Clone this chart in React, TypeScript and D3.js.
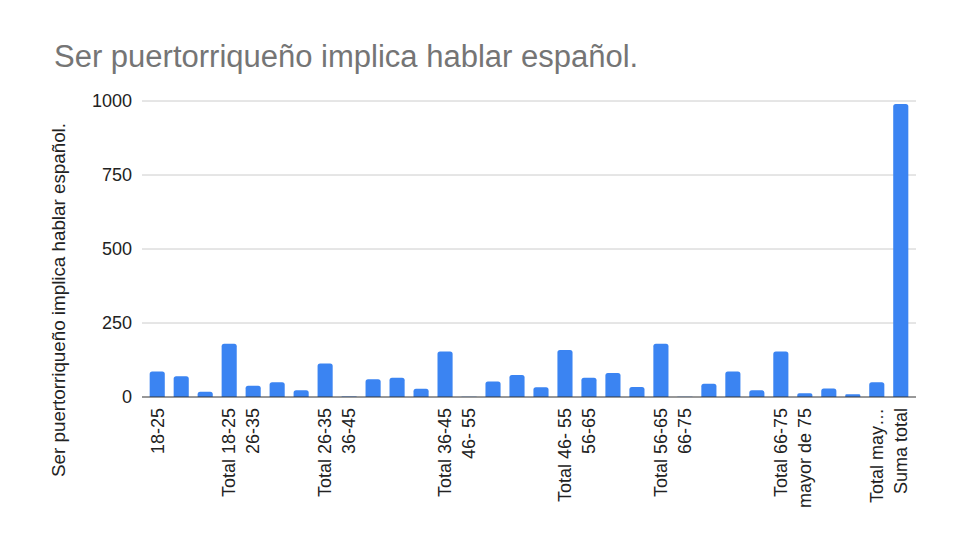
import React from 'react';
import * as d3 from 'd3';

// labels as shown on the x axis (blank ones are unlabeled rows of the pivot)
const categories = [
  '18-25', '', '', 'Total 18-25',
  '26-35', '', '', 'Total 26-35',
  '36-45', '', '', '', 'Total 36-45',
  '46- 55', '', '', '', 'Total 46- 55',
  '56-65', '', '', 'Total 56-65',
  '66-75', '', '', '', 'Total 66-75',
  'mayor de 75', '', '', 'Total may…',
  'Suma total',
];

const values = [
  86, 70, 18, 180,
  38, 50, 23, 113,
  2, 60, 65, 28, 154,
  1, 52, 74, 33, 159,
  65, 81, 34, 180,
  1, 45, 86, 23, 154,
  13, 29, 9, 50,
  990,
];

const yTicks = [0, 250, 500, 750, 1000];

const title = 'Ser puertorriqueño implica hablar español.';
const yLabel = 'Ser puertorriqueño implica hablar español.';

const width = 960;
const height = 540;
const font = '"Liberation Sans", Arial, sans-serif';

const App = () => {
  // x as a band over the row index, since several labels are blank
  const x = d3
    .scaleBand<number>()
    .domain(d3.range(values.length))
    .range([142, 916])
    .paddingInner(0.37)
    .paddingOuter(0.32);

  const y = d3.scaleLinear().domain([0, 1000]).range([397, 101]);

  // bar with rounded top corners
  const barPath = (x0: number, w: number, top: number, base: number) => {
    const h = base - top;
    const r = Math.min(2.5, h / 2, w / 2);
    const p = d3.path();
    p.moveTo(x0, base);
    p.lineTo(x0, top + r);
    p.quadraticCurveTo(x0, top, x0 + r, top);
    p.lineTo(x0 + w - r, top);
    p.quadraticCurveTo(x0 + w, top, x0 + w, top + r);
    p.lineTo(x0 + w, base);
    p.closePath();
    return p.toString();
  };

  return (
    <svg
      width={width}
      height={height}
      style={{ position: 'absolute', left: 0, top: 0, background: '#fff' }}
      fontFamily={font}
    >
      <rect width={width} height={height} fill="#fff" />

      <text x={54} y={67} fontSize={31} fill="#757575">
        {title}
      </text>

      {/* gridlines + y tick labels */}
      {yTicks.map(t => (
        <g key={t}>
          {t > 0 && (
            <line x1={142} x2={916} y1={y(t)} y2={y(t)} stroke="#cccccc" strokeWidth={1} />
          )}
          <text
            x={132}
            y={y(t)}
            dy="0.35em"
            textAnchor="end"
            fontSize={18}
            fill="#222"
          >
            {t}
          </text>
        </g>
      ))}

      {/* bars */}
      {values.map((v, i) => (
        <path
          key={i}
          d={barPath(x(i) as number, x.bandwidth(), y(v), y(0))}
          fill="#3b84f2"
        />
      ))}

      {/* baseline */}
      <line x1={142} x2={916} y1={y(0)} y2={y(0)} stroke="#333" strokeWidth={1.2} />

      {/* x labels */}
      {categories.map((c, i) =>
        c ? (
          <text
            key={i}
            transform={`translate(${(x(i) as number) + x.bandwidth() / 2}, 408) rotate(-90)`}
            dy="0.35em"
            textAnchor="end"
            fontSize={18}
            fill="#222"
          >
            {c}
          </text>
        ) : null
      )}

      {/* y axis title */}
      <text
        transform="translate(58, 300) rotate(-90)"
        dy="0.35em"
        textAnchor="middle"
        fontSize={18.8}
        fill="#222"
      >
        {yLabel}
      </text>
    </svg>
  );
};

export default App;
